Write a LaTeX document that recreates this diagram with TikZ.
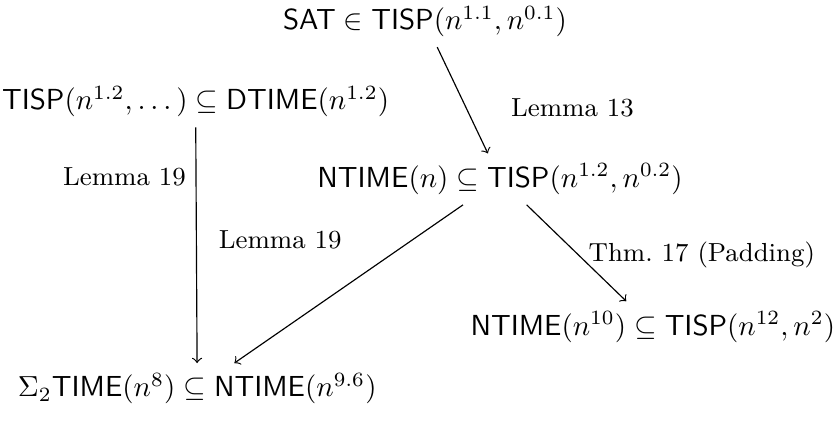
\documentclass[tikz,border=0pt]{standalone}
\usepackage{amsmath,amssymb}
\newcommand{\cls}[1]{\mathsf{#1}}

\begin{document}
\begin{tikzpicture}[
  claim/.style={anchor=base},
  lbl/.style={font=\small},
  imp/.style={->},
]
  \useasboundingbox (0,0) rectangle (101.3mm,-51.3mm);
  % the assumption and what follows from it
  \node[claim] (sat) at (51.5mm,-3.6mm) {$\cls{SAT} \in \cls{TISP}(n^{1.1}, n^{0.1})$};
  \node[claim] (dtime) at (23.7mm,-13.3mm) {$\cls{TISP}(n^{1.2}, \dots) \subseteq \cls{DTIME}(n^{1.2})$};
  \node[claim] (ntime) at (60.6mm,-22.7mm) {$\cls{NTIME}(n) \subseteq \cls{TISP}(n^{1.2}, n^{0.2})$};
  \node[claim] (pad) at (79.1mm,-40.6mm) {$\cls{NTIME}(n^{10}) \subseteq \cls{TISP}(n^{12}, n^{2})$};
  \node[claim] (sigma) at (23.9mm,-48.1mm) {$\Sigma_2\cls{TIME}(n^{8}) \subseteq \cls{NTIME}(n^{9.6})$};

  \draw[imp] (sat) -- node[lbl, pos=0.57, right=12pt] (l13) {Lemma 13} (ntime);
  \draw[imp] (ntime) -- node[lbl, pos=0.52, right] (l17) {Thm.~17 (Padding)} (pad);
  \draw[imp] (dtime) -- node[lbl, pos=0.21, left] (l19a) {Lemma 19} (sigma);
  \draw[imp] (ntime) -- node[lbl, pos=0.22, left=21pt] (l19b) {Lemma 19} (sigma);
\end{tikzpicture}
\end{document}
